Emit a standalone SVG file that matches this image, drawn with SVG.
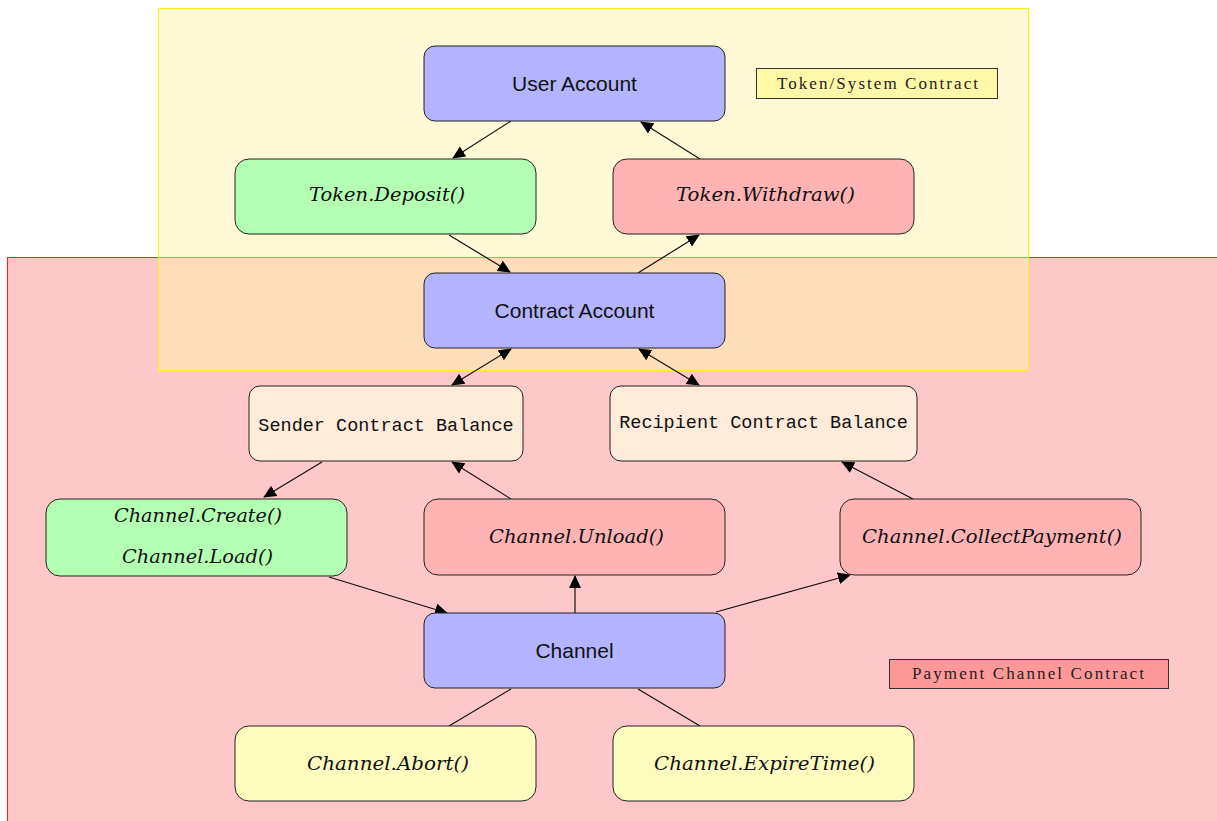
<svg xmlns="http://www.w3.org/2000/svg" width="1217" height="821" viewBox="0 0 1217 821">
<defs>
<marker id="ah" markerUnits="userSpaceOnUse" markerWidth="14" markerHeight="14" viewBox="0 0 14 14" refX="12" refY="7" orient="auto-start-reverse">
<path d="M0,1 L13,7 L0,13 Z" fill="#000"/>
</marker>
<style>
.n{stroke:#222;stroke-width:1}
.blue{fill:#b3b3ff}.green{fill:#b3ffb3}.red{fill:#ffb3b3}.bal{fill:#ffebd9}.yel{fill:#fffcc0}
.sans{font-family:"Liberation Sans","DejaVu Sans",sans-serif;font-size:21px;fill:#111}
.it{font-family:"DejaVu Serif","Liberation Serif",serif;font-style:italic;font-size:18px;fill:#111}
.mono{font-family:"Liberation Mono","DejaVu Sans Mono",monospace;font-size:18.5px;fill:#111}
.lab{font-family:"Liberation Serif","DejaVu Serif",serif;font-size:17px;fill:#222}
.e{stroke:#111;stroke-width:1.2;fill:none}
</style>
</defs>
<rect width="1217" height="821" fill="#fff"/>
<g id="payment-region"><rect x="7.5" y="257.5" width="1215" height="570" fill="#ffc8c8" stroke="#ee2222" stroke-width="1"/></g>
<g id="token-region"><rect x="158.5" y="8.5" width="870" height="362" fill="#fff5ab" fill-opacity="0.5" stroke="#ffee22" stroke-width="1.2"/></g>

<g id="connectors">
<line class="e" x1="511" y1="121" x2="453" y2="158" marker-end="url(#ah)"/>
<line class="e" x1="700" y1="159" x2="641" y2="122" marker-end="url(#ah)"/>
<line class="e" x1="449" y1="235" x2="510" y2="272" marker-end="url(#ah)"/>
<line class="e" x1="638" y1="273" x2="699" y2="235" marker-end="url(#ah)"/>
<line class="e" x1="511" y1="349" x2="452" y2="385" marker-start="url(#ah)" marker-end="url(#ah)"/>
<line class="e" x1="639" y1="349" x2="699" y2="385" marker-start="url(#ah)" marker-end="url(#ah)"/>
<line class="e" x1="322" y1="462" x2="264" y2="497" marker-end="url(#ah)"/>
<line class="e" x1="511" y1="499" x2="452" y2="462" marker-end="url(#ah)"/>
<line class="e" x1="913" y1="499" x2="842" y2="462" marker-end="url(#ah)"/>
<line class="e" x1="329" y1="577" x2="447" y2="613" marker-end="url(#ah)"/>
<line class="e" x1="575" y1="613" x2="575" y2="576" marker-end="url(#ah)"/>
<line class="e" x1="716" y1="612" x2="850" y2="575" marker-end="url(#ah)"/>
<line class="e" x1="511" y1="689" x2="449" y2="726"/>
<line class="e" x1="638" y1="689" x2="700" y2="726"/>
</g>

<g id="user-account"><rect class="n blue" x="424" y="46" width="301" height="75" rx="11"/><text class="sans" x="574.5" y="91" text-anchor="middle">User Account</text></g>
<g id="token-deposit"><rect class="n green" x="235" y="159" width="301" height="75" rx="14"/><text class="it" x="309" y="201" textLength="156" lengthAdjust="spacingAndGlyphs">Token.Deposit()</text></g>
<g id="token-withdraw"><rect class="n red" x="613" y="159" width="301" height="75" rx="14"/><text class="it" x="676" y="201" textLength="179" lengthAdjust="spacingAndGlyphs">Token.Withdraw()</text></g>
<g id="contract-account"><rect class="n blue" x="424" y="273" width="301" height="75" rx="11"/><text class="sans" x="574.5" y="318" text-anchor="middle">Contract Account</text></g>
<g id="sender-balance"><rect class="n bal" x="249" y="386" width="274" height="75" rx="11"/><text class="mono" x="386" y="431" text-anchor="middle">Sender Contract Balance</text></g>
<g id="recipient-balance"><rect class="n bal" x="610" y="386" width="307" height="75" rx="11"/><text class="mono" x="763.5" y="428" text-anchor="middle">Recipient Contract Balance</text></g>
<g id="channel-create-load"><rect class="n green" x="46" y="499" width="301" height="77" rx="14"/><text class="it" x="114" y="522" textLength="168" lengthAdjust="spacingAndGlyphs">Channel.Create()</text><text class="it" x="122" y="563" textLength="151" lengthAdjust="spacingAndGlyphs">Channel.Load()</text></g>
<g id="channel-unload"><rect class="n red" x="424" y="499" width="301" height="76" rx="14"/><text class="it" x="489" y="543" textLength="175" lengthAdjust="spacingAndGlyphs">Channel.Unload()</text></g>
<g id="channel-collect"><rect class="n red" x="840" y="499" width="301" height="76" rx="14"/><text class="it" x="862" y="543" textLength="260" lengthAdjust="spacingAndGlyphs">Channel.CollectPayment()</text></g>
<g id="channel"><rect class="n blue" x="424" y="613" width="301" height="75" rx="11"/><text class="sans" x="574.5" y="658" text-anchor="middle">Channel</text></g>
<g id="channel-abort"><rect class="n yel" x="235" y="726" width="301" height="75" rx="14"/><text class="it" x="307" y="770" textLength="162" lengthAdjust="spacingAndGlyphs">Channel.Abort()</text></g>
<g id="channel-expire"><rect class="n yel" x="613" y="726" width="301" height="75" rx="14"/><text class="it" x="654" y="770" textLength="221" lengthAdjust="spacingAndGlyphs">Channel.ExpireTime()</text></g>

<g id="label-token"><rect x="756.5" y="68.5" width="241" height="30" fill="#fff8a8" stroke="#333" stroke-width="1"/><text class="lab" x="777" y="89" textLength="201" lengthAdjust="spacing">Token/System Contract</text></g>
<g id="label-payment"><rect x="889.5" y="659.5" width="279" height="29" fill="#ff9999" stroke="#333" stroke-width="1"/><text class="lab" x="912" y="679" textLength="232" lengthAdjust="spacing">Payment Channel Contract</text></g>
</svg>
